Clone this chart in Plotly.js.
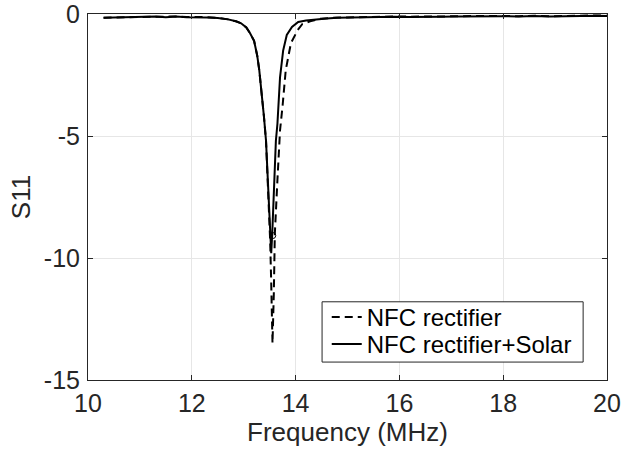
<!DOCTYPE html>
<html>
<head>
<meta charset="utf-8">
<script src="https://cdn.plot.ly/plotly-3.0.1.min.js"></script>
<style>html,body{margin:0;padding:0;background:#fff}#plot{width:623px;height:456px}</style>
</head>
<body>
<div id="plot"></div>
<script>
const freqSolid = [10.3,10.5,10.7,10.9,11.1,11.3,11.5,11.7,11.9,12.1,12.3,12.5,12.7,12.85,12.95,13.05,13.12,13.2,13.26,13.3,13.35,13.39,13.43,13.47,13.51,13.53,13.55,13.58,13.62,13.65,13.67,13.70,13.76,13.83,13.93,14.05,14.2,14.4,14.6,14.8,15.0,15.3,15.6,15.9,16.2,16.5,16.8,17.1,17.4,17.7,18.0,18.3,18.6,18.9,19.2,19.5,19.8,20.0];
const s11Solid = [-0.15,-0.14,-0.16,-0.13,-0.14,-0.10,-0.13,-0.10,-0.13,-0.12,-0.14,-0.16,-0.22,-0.30,-0.38,-0.55,-0.78,-1.1,-1.7,-2.3,-3.25,-4.2,-5.2,-7.2,-9.3,-9.8,-9.0,-7.0,-5.2,-4.5,-3.5,-2.6,-1.5,-0.86,-0.53,-0.33,-0.27,-0.21,-0.18,-0.15,-0.14,-0.12,-0.13,-0.11,-0.12,-0.10,-0.11,-0.10,-0.09,-0.11,-0.09,-0.10,-0.08,-0.10,-0.08,-0.09,-0.07,-0.08];
const freqDash = [10.3,10.5,10.7,10.9,11.1,11.3,11.5,11.7,11.9,12.1,12.3,12.5,12.7,12.85,12.95,13.05,13.12,13.2,13.26,13.3,13.35,13.39,13.43,13.47,13.51,13.53,13.555,13.58,13.60,13.65,13.70,13.75,13.81,13.91,14.04,14.13,14.28,14.47,14.7,15.0,15.3,15.6,15.9,16.2,16.5,16.8,17.1,17.4,17.7,18.0,18.3,18.6,18.9,19.2,19.5,19.8,20.0];
const s11Dash = [-0.15,-0.14,-0.14,-0.13,-0.13,-0.11,-0.12,-0.10,-0.12,-0.12,-0.13,-0.16,-0.22,-0.30,-0.38,-0.55,-0.78,-1.1,-1.7,-2.3,-3.25,-4.2,-5.2,-7.2,-9.3,-11.0,-13.5,-11.5,-9.0,-6.8,-4.77,-3.74,-2.3,-1.19,-0.66,-0.41,-0.30,-0.20,-0.16,-0.14,-0.12,-0.12,-0.10,-0.11,-0.09,-0.10,-0.09,-0.08,-0.10,-0.08,-0.09,-0.07,-0.09,-0.07,-0.08,-0.06,-0.07];
const tipFreq = [13.56];
const tipS11 = [-9.08];
const legendNames = ['NFC rectifier','NFC rectifier+Solar'];

const traces = [
  {x: freqDash, y: s11Dash, mode:'lines', name: legendNames[0], legend:'legend',
   line:{color:'#000', width:2, dash:'8px,5px'}},
  {x: freqSolid, y: s11Solid, mode:'lines', name: legendNames[1], legend:'legend2',
   line:{color:'#000', width:2}},
  {x: tipFreq, y: tipS11, mode:'markers', showlegend:false,
   marker:{symbol:'circle-open', size:6, color:'#000', line:{width:1}}}
];

const axisCommon = {
  showline:true, mirror:'ticks', linecolor:'#262626', linewidth:1,
  ticks:'inside', ticklen:5, tickcolor:'#262626',
  showgrid:true, gridcolor:'#e6e6e6', gridwidth:1, zeroline:false,
  ticklabeloverflow:'allow',
  tickfont:{family:'Liberation Sans, Arial, sans-serif', size:25, color:'#262626'}
};

const legendCommon = {xanchor:'left', yanchor:'middle', bgcolor:'rgba(0,0,0,0)',
  borderwidth:0, font:{size:24, color:'#000'}, tracegroupgap:0, itemwidth:30};

const layout = {
  width:623, height:456,
  margin:{l:88, r:16, t:14, b:76},
  paper_bgcolor:'#fff', plot_bgcolor:'#fff',
  font:{family:'Liberation Sans, Arial, sans-serif', color:'#262626'},
  xaxis: Object.assign({}, axisCommon, {
    range:[10,20], tickvals:[10,12,14,16,18,20], ticktext:['10','12','14','16','18','20'],
    ticklabelstandoff:1,
    title:{text:'Frequency (MHz)', font:{size:26, color:'#262626'}, standoff:6}
  }),
  yaxis: Object.assign({}, axisCommon, {
    range:[-15,0], tickvals:[-15,-10,-5,0], ticktext:['-15','-10','-5','0'],
    ticklabelstandoff:2,
    title:{text:'S11', font:{size:26, color:'#262626'}, standoff:5}
  }),
  legend: Object.assign({}, legendCommon, {x:0.46, y:0.171}),
  legend2: Object.assign({}, legendCommon, {x:0.46, y:0.097}),
  shapes:[{type:'rect', xref:'paper', yref:'paper', x0:0.451, x1:0.954, y0:0.049, y1:0.2137,
    fillcolor:'#fff', line:{color:'#262626', width:1}, layer:'above'}],
  showlegend:true
};

Plotly.newPlot('plot', traces, layout, {displayModeBar:false, staticPlot:true});
</script>
</body>
</html>
